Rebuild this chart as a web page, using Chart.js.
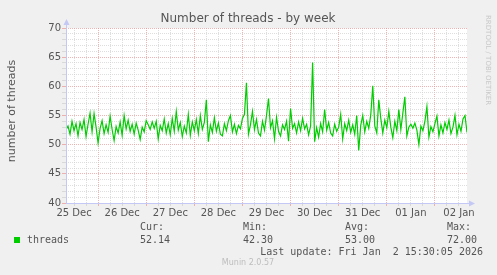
<!DOCTYPE html>
<html>
<head>
<meta charset="utf-8">
<script src="https://cdn.jsdelivr.net/npm/chart.js@4/dist/chart.umd.min.js"></script>
<style>
  html, body { margin: 0; padding: 0; background: #f0f0f0; }
  canvas { display: block; }
</style>
</head>
<body>
<canvas id="c" width="497" height="275"></canvas>
<script>
// ---- data (hours counted from 25 Dec 00:00) ----
const startHour = 8;
const stepHours = 1;
const threads = [
  52.5, 53.2, 51.8, 54.0, 52.4, 53.6, 51.5, 53.8, 52.6, 54.3,
  51.4, 53.5, 55.4, 52.2, 55.3, 53.0, 50.3, 52.8, 54.1, 51.9,
  53.4, 52.1, 54.9, 52.6, 50.7, 53.1, 52.0, 53.9, 51.6, 55.0,
  52.7, 54.2, 52.3, 53.5, 51.8, 53.7, 52.5, 50.9, 53.0, 52.2,
  54.1, 53.4, 52.6, 53.9, 52.8, 54.0, 51.0, 53.3, 52.4, 54.4,
  52.0, 53.6, 51.7, 54.5, 52.3, 55.7, 52.5, 53.8, 51.4, 53.2,
  52.0, 55.2, 51.6, 53.9, 52.4, 54.3, 51.9, 55.0, 52.6, 53.8,
  57.7, 50.5, 53.4, 52.1, 54.6, 52.3, 53.7, 51.8, 51.5, 53.6,
  52.4, 54.1, 55.0, 52.2, 53.5, 51.9, 53.3, 52.7, 54.5, 55.2,
  60.6, 51.8, 53.4, 55.7, 52.6, 54.3, 52.0, 51.5, 54.0, 52.5,
  55.0, 57.9, 52.9, 54.1, 51.0, 54.7, 52.3, 51.5, 53.4, 52.6,
  54.0, 50.6, 56.2, 52.8, 53.6, 52.0, 53.9, 52.4, 54.5, 52.7,
  53.5, 51.7, 53.2, 64.1, 50.5, 52.9, 51.3, 53.6, 52.2, 56.0,
  52.5, 53.8, 52.0, 51.5, 53.5, 52.3, 53.0, 55.2, 51.0, 53.6,
  52.4, 54.2, 52.1, 53.4, 51.8, 55.0, 49.0, 53.3, 55.0, 52.2,
  54.0, 52.8, 55.1, 60.1, 53.2, 52.0, 57.7, 54.5, 52.0, 54.2,
  52.9, 55.7, 53.0, 51.2, 54.0, 52.4, 56.0, 52.6, 55.4, 58.2,
  51.5, 53.0, 53.5, 52.8, 53.7, 52.5, 50.0, 53.2, 52.4, 54.0,
  56.5, 51.3, 53.1, 52.2, 53.6, 54.9, 51.5, 53.4, 52.0, 53.8,
  52.6, 54.2, 51.9, 53.0, 55.0, 51.7, 53.5, 52.3, 54.4, 55.0,
  52.1
];
const dayLabels = ['25 Dec','26 Dec','27 Dec','28 Dec','29 Dec','30 Dec','31 Dec','01 Jan','02 Jan'];
const seriesName = 'threads';
const statNames = ['Cur:', 'Min:', 'Avg:', 'Max:'];
const statValues = ['52.14', '42.30', '53.00', '72.00'];
const titleText = 'Number of threads - by week';
const yTitleText = 'number of threads';
const lastUpdate = 'Last update: Fri Jan  2 15:30:05 2026';
const footerText = 'Munin 2.0.57';
const sideText = 'RRDTOOL / TOBI OETIKER';

const points = threads.map((v, i) => ({ x: startHour + i * stepHours, y: v }));

const MAJOR = 'rgba(232,150,150,0.7)';
const MINOR = 'rgba(205,205,205,0.65)';
const AXIS = '#c4c8f4';
const TXT = '#555555';

const decor = {
  id: 'decor',
  beforeDraw(chart) {
    const ctx = chart.ctx, a = chart.chartArea;
    ctx.save();
    ctx.fillStyle = '#f0f0f0';
    ctx.fillRect(0, 0, chart.width, chart.height);
    ctx.fillStyle = '#ffffff';
    ctx.fillRect(a.left, a.top, a.right - a.left, a.bottom - a.top);
    ctx.restore();
  },
  afterDraw(chart) {
    const ctx = chart.ctx, a = chart.chartArea;
    ctx.save();
    // axes with arrows
    ctx.strokeStyle = AXIS; ctx.fillStyle = AXIS; ctx.lineWidth = 1;
    ctx.beginPath();
    ctx.moveTo(a.left + 0.5, a.bottom + 0.5); ctx.lineTo(a.left + 0.5, a.top - 6);
    ctx.moveTo(a.left, a.bottom + 0.5); ctx.lineTo(a.right + 4, a.bottom + 0.5);
    ctx.stroke();
    ctx.beginPath();
    ctx.moveTo(a.left + 0.5, a.top - 9); ctx.lineTo(a.left - 2.5, a.top - 3); ctx.lineTo(a.left + 3.5, a.top - 3); ctx.closePath(); ctx.fill();
    ctx.beginPath();
    ctx.moveTo(a.right + 8, a.bottom + 0.5); ctx.lineTo(a.right + 2, a.bottom - 2.5); ctx.lineTo(a.right + 2, a.bottom + 3.5); ctx.closePath(); ctx.fill();

    // title
    ctx.fillStyle = TXT;
    ctx.font = '12px "DejaVu Sans"';
    ctx.textAlign = 'center'; ctx.textBaseline = 'middle';
    ctx.fillText(titleText, 248, 19);

    // y title
    ctx.save();
    ctx.translate(12, 111);
    ctx.rotate(-Math.PI / 2);
    ctx.font = '11px "DejaVu Sans"';
    ctx.fillText(yTitleText, 0, 0);
    ctx.restore();

    // side text
    ctx.save();
    ctx.translate(488, 15);
    ctx.rotate(Math.PI / 2);
    ctx.fillStyle = '#c8c8c8';
    ctx.font = '7px "DejaVu Sans"';
    ctx.textAlign = 'left'; ctx.textBaseline = 'middle';
    ctx.fillText(sideText, 0, 0);
    ctx.restore();

    // legend
    const col = chart.data.datasets[0].borderColor;
    ctx.fillStyle = col;
    ctx.fillRect(14, 237, 6, 6);
    ctx.fillStyle = TXT;
    ctx.font = '10px "DejaVu Sans Mono"';
    ctx.textAlign = 'left'; ctx.textBaseline = 'middle';
    ctx.fillText(seriesName, 27, 240);
    const sx = [140, 243, 345, 447];
    statNames.forEach((n, i) => {
      ctx.fillText(n, sx[i], 227);
      ctx.fillText(statValues[i], sx[i], 240);
    });
    ctx.textAlign = 'right';
    ctx.fillText(lastUpdate, 483, 252);

    ctx.textAlign = 'center';
    ctx.fillStyle = '#bdbdbd';
    ctx.font = '8px "DejaVu Sans"';
    ctx.fillText(footerText, 248, 263);
    ctx.restore();
  }
};

new Chart(document.getElementById('c'), {
  type: 'line',
  data: {
    datasets: [{
      label: seriesName,
      data: points,
      borderColor: '#00cc00',
      borderWidth: 1.2,
      pointRadius: 0,
      tension: 0,
      fill: false
    }]
  },
  options: {
    responsive: false,
    animation: false,
    devicePixelRatio: 1,
    layout: { padding: { top: 28, right: 30, left: 0, bottom: 0 } },
    plugins: { legend: { display: false }, title: { display: false }, tooltip: { enabled: false } },
    scales: {
      x: {
        type: 'linear',
        min: 8,
        max: 208,
        afterFit(s) { s.height = 72; },
        afterBuildTicks(s) {
          const t = [];
          for (let v = 12; v < 208; v += 6) t.push({ value: v });
          s.ticks = t;
        },
        ticks: {
          autoSkip: false,
          maxRotation: 0,
          padding: 1,
          color: TXT,
          font: { family: 'DejaVu Sans', size: 10 },
          callback: v => (v % 24 === 12 ? dayLabels[(v - 12) / 24] : '')
        },
        grid: {
          color: c => (c.tick && c.tick.value % 24 === 0 ? MAJOR : MINOR),
          tickLength: 3,
          lineWidth: 1
        },
        border: { display: false, dash: [1, 1] }
      },
      y: {
        min: 40,
        max: 70,
        afterFit(s) { s.width = 66; },
        afterBuildTicks(s) {
          const t = [];
          for (let v = 40; v <= 70; v += 1) t.push({ value: v });
          s.ticks = t;
        },
        ticks: {
          autoSkip: false,
          padding: 1,
          color: TXT,
          font: { family: 'DejaVu Sans', size: 10 },
          callback: v => (v % 5 === 0 ? String(v) : '')
        },
        grid: {
          color: c => (c.tick && c.tick.value % 5 === 0 ? MAJOR : MINOR),
          tickLength: 4,
          lineWidth: 1
        },
        border: { display: false, dash: [1, 1] }
      }
    }
  },
  plugins: [decor]
});
</script>
</body>
</html>
